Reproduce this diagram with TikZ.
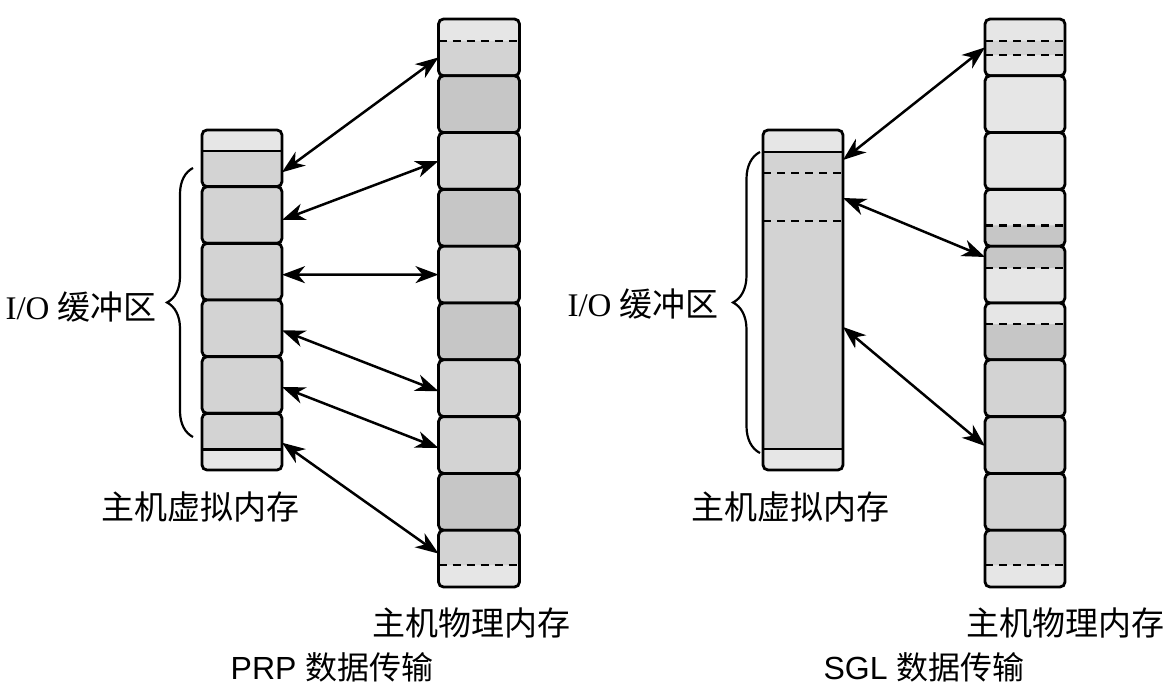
\documentclass[tikz,border=0pt]{standalone}
\usepackage{fontspec}
\setmainfont{Liberation Serif}
\newfontfamily\cjk{Noto Sans CJK SC}
\newfontfamily\arialf{Liberation Sans}
\usetikzlibrary{arrows.meta,decorations.pathreplacing}
\definecolor{cL}{HTML}{E6E6E6}
\definecolor{cM}{HTML}{D3D3D3}
\definecolor{cD}{HTML}{C6C6C6}
\begin{document}
\begin{tikzpicture}[x=1pt,y=-1pt,
  blk/.style={draw=black, line width=2.8pt, rounded corners=5pt, minimum width=80pt,
    minimum height=56.8pt, inner sep=0pt, outer sep=0pt, fill=cM},
  vblk/.style={blk, minimum height=56.67pt},
  dsh/.style={line width=2.5pt, dash pattern=on 8pt off 6pt},
  sol/.style={line width=2.6pt},
  split/.style n args={4}{fill=#3, path picture={
      \fill[#1] (path picture bounding box.north west) rectangle ([yshift=-#2]path picture bounding box.north east);
      \draw[#4] ([yshift=-#2]path picture bounding box.north west) -- ([yshift=-#2]path picture bounding box.north east);}},
  band/.style={fill=cL, path picture={
      \fill[cM] ([yshift=-22pt]path picture bounding box.north west) rectangle ([yshift=-36pt]path picture bounding box.north east);
      \draw[dsh] ([yshift=-22pt]path picture bounding box.north west) -- ([yshift=-22pt]path picture bounding box.north east);
      \draw[dsh] ([yshift=-36pt]path picture bounding box.north west) -- ([yshift=-36pt]path picture bounding box.north east);}},
  conn/.style={line width=2.5pt, {Stealth[length=23pt,width=17pt,inset=7pt]}-{Stealth[length=23pt,width=17pt,inset=7pt]}},
  brc/.style={line width=2.2pt, decorate, decoration={brace, amplitude=#1}},
  lbl/.style={inner sep=0pt, font=\fontsize{33}{38}\selectfont\cjk},
  ttl/.style={inner sep=0pt, font=\fontsize{32}{38}\selectfont}
]
\useasboundingbox[fill=white] (0,0) rectangle (1173,687);

% ---------- PRP: virtual memory ----------
\node[vblk, split={cL}{21pt}{cM}{sol}] (pv1) at (242,158.3) {};
\node[vblk] (pv2) at (242,215.0) {};
\node[vblk] (pv3) at (242,271.7) {};
\node[vblk] (pv4) at (242,328.3) {};
\node[vblk] (pv5) at (242,385.0) {};
\node[vblk, split={cM}{36pt}{cL}{sol}] (pv6) at (242,441.7) {};

% ---------- PRP: physical memory ----------
\node[blk, minimum width=81pt, split={cL}{22pt}{cM}{dsh}] (pp1) at (479,47.4) {};
\node[blk, minimum width=81pt, fill=cD] (pp2) at (479,104.2) {};
\node[blk, minimum width=81pt] (pp3) at (479,161.0) {};
\node[blk, minimum width=81pt, fill=cD] (pp4) at (479,217.8) {};
\node[blk, minimum width=81pt] (pp5) at (479,274.6) {};
\node[blk, minimum width=81pt, fill=cD] (pp6) at (479,331.4) {};
\node[blk, minimum width=81pt] (pp7) at (479,388.2) {};
\node[blk, minimum width=81pt] (pp8) at (479,445.0) {};
\node[blk, minimum width=81pt, fill=cD] (pp9) at (479,501.8) {};
\node[blk, minimum width=81pt, split={cM}{35pt}{cL}{dsh}] (pp10) at (479,558.6) {};

% ---------- PRP arrows ----------
\draw[conn] ([yshift=-14pt]pv1.east) -- ([yshift=-10pt]pp1.west);
\draw[conn] ([yshift=-5pt]pv2.east) -- (pp3.west);
\draw[conn] ([yshift=-3pt]pv3.east) -- (pp5.west);
\draw[conn] ([yshift=-2pt]pv4.east) -- ([yshift=-3pt]pp7.west);
\draw[conn] ([yshift=-2pt]pv5.east) -- ([yshift=-3pt]pp8.west);
\draw[conn] ([yshift=-1pt]pv6.east) -- ([yshift=5pt]pp10.west);

% ---------- PRP labels ----------
\draw[brc=26pt] (193,437) -- (193,168);
\node[lbl, anchor=east] (io1) at (157,307) {\fontspec{Liberation Serif}I/O \cjk 缓冲区};
\node[lbl] (vm1) at (200,507) {主机虚拟内存};
\node[lbl] (pm1) at (471,623) {主机物理内存};
\node[ttl] (t1) at (332,667) {\arialf PRP \cjk 数据传输};

% ---------- SGL: virtual memory ----------
\node[blk, minimum height=340pt, fill=cM, path picture={
    \fill[cL] (path picture bounding box.north west) rectangle ([yshift=-22pt]path picture bounding box.north east);
    \fill[cL] ([yshift=21pt]path picture bounding box.south west) rectangle (path picture bounding box.south east);
    \draw[sol] ([yshift=-22pt]path picture bounding box.north west) -- ([yshift=-22pt]path picture bounding box.north east);
    \draw[sol] ([yshift=21pt]path picture bounding box.south west) -- ([yshift=21pt]path picture bounding box.south east);
    \draw[dsh] ([yshift=-43pt]path picture bounding box.north west) -- ([yshift=-43pt]path picture bounding box.north east);
    \draw[dsh] ([yshift=-91pt]path picture bounding box.north west) -- ([yshift=-91pt]path picture bounding box.north east);
  }] (sv) at (803,300) {};

% ---------- SGL: physical memory ----------
\node[blk, band] (sp1) at (1025,47.4) {};
\node[blk, fill=cL] (sp2) at (1025,104.2) {};
\node[blk, fill=cL] (sp3) at (1025,161.0) {};
\node[blk, split={cL}{36pt}{cD}{dsh}] (sp4) at (1025,217.8) {};
\node[blk, split={cD}{22pt}{cL}{dsh}] (sp5) at (1025,274.6) {};
\node[blk, split={cL}{21pt}{cD}{dsh}] (sp6) at (1025,331.4) {};
\node[blk] (sp7) at (1025,388.2) {};
\node[blk] (sp8) at (1025,445.0) {};
\node[blk] (sp9) at (1025,501.8) {};
\node[blk, split={cM}{35pt}{cL}{dsh}] (sp10) at (1025,558.6) {};

% ---------- SGL arrows ----------
\draw[conn] ([yshift=140pt]sv.east) -- (sp1.west);
\draw[conn] ([yshift=102pt]sv.east) -- ([yshift=17.6pt]sp5.west);
\draw[conn] ([yshift=-27pt]sv.east) -- ([yshift=-1pt]sp8.west);

% ---------- SGL labels ----------
\draw[brc=27pt] (760,453) -- (760,152);
\node[lbl, anchor=east] (io2) at (719,304) {\fontspec{Liberation Serif}I/O \cjk 缓冲区};
\node[lbl] (vm2) at (790,507) {主机虚拟内存};
\node[lbl] (pm2) at (1065,623) {主机物理内存};
\node[ttl] (t2) at (924,667) {\arialf SGL \cjk 数据传输};
\end{tikzpicture}
\end{document}
